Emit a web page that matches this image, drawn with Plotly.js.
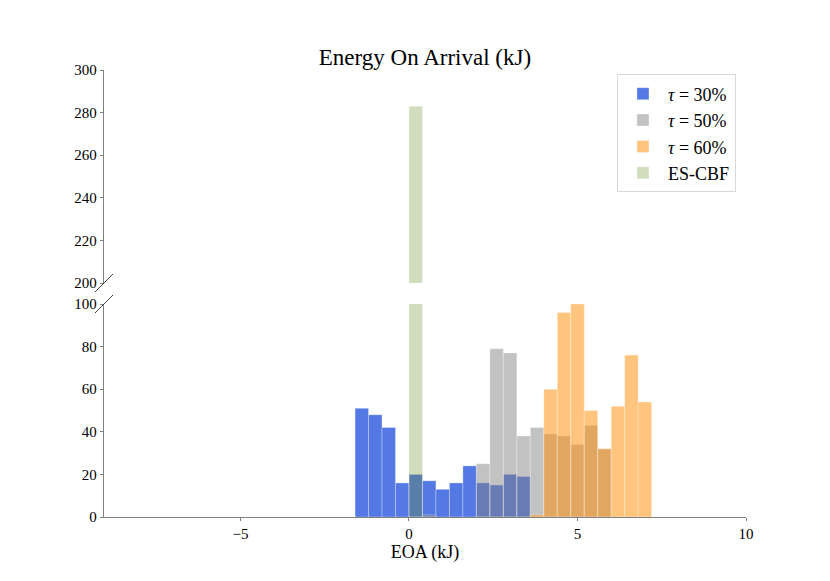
<!DOCTYPE html>
<html>
<head>
<meta charset="utf-8">
<script src="https://cdn.plot.ly/plotly-3.0.1.min.js"></script>
<style>
  html, body { margin: 0; padding: 0; background: #fff; }
  #grafico { width: 830px; height: 581px; }
</style>
</head>
<body>
<div id="grafico"></div>
<script>
// bin left edges (kJ) and counts, bin width 0.4
const binWidth = 0.4;

const tau30Edges = [-1.6, -1.2, -0.8, -0.4, 0.0, 0.4, 0.8, 1.2, 1.6, 2.0, 2.4, 2.8, 3.2];
const tau30Counts = [51, 48, 42, 16, 20, 17, 13, 16, 24, 16, 15, 20, 19];

const tau50Edges = [0.4, 2.0, 2.4, 2.8, 3.2, 3.6, 4.0, 4.4, 4.8, 5.2, 5.6];
const tau50Counts = [1, 25, 79, 77, 38, 42, 39, 38, 34, 43, 32];

const tau60Edges = [3.6, 4.0, 4.4, 4.8, 5.2, 5.6, 6.0, 6.4, 6.8];
const tau60Counts = [1, 60, 96, 100, 50, 32, 52, 76, 54];

const cbfEdges = [0.0];
const cbfCounts = [283];

const series = [
    { name: '<i>τ</i> = 30%', x: tau30Edges, y: tau30Counts, color: 'rgba(65,105,225,0.9)' },
    { name: '<i>τ</i> = 50%', x: tau50Edges, y: tau50Counts, color: 'rgba(128,128,128,0.48)' },
    { name: '<i>τ</i> = 60%', x: tau60Edges, y: tau60Counts, color: 'rgba(255,140,0,0.5)' },
    { name: 'ES-CBF', x: cbfEdges, y: cbfCounts, color: 'rgba(107,142,35,0.3)' }
];

const traces = [];
// lower panel (0-100)
series.forEach(s => {
    traces.push({
        type: 'bar', x: s.x, y: s.y, name: s.name,
        offset: 0, width: binWidth,
        marker: { color: s.color, line: { width: 0.6, color: 'rgba(255,255,255,0.5)' } },
        xaxis: 'x', yaxis: 'y', legendgroup: s.name
    });
});
// upper panel (200-300), same data
series.forEach(s => {
    traces.push({
        type: 'bar', x: s.x, y: s.y, name: s.name,
        offset: 0, width: binWidth, showlegend: false,
        marker: { color: s.color, line: { width: 0.6, color: 'rgba(255,255,255,0.5)' } },
        xaxis: 'x', yaxis: 'y2', legendgroup: s.name
    });
});

const fuente = 'Liberation Serif, Times New Roman, serif';
const gris = '#808080';
const splitBottom = 0.4765;
const splitTop = 0.5235;

// small diagonal marks at the axis break
function corte(yPaper) {
    return {
        type: 'line', xref: 'paper', yref: 'paper',
        xsizemode: 'pixel', xanchor: 0, x0: -9, x1: 9,
        ysizemode: 'pixel', yanchor: yPaper, y0: -9, y1: 9,
        line: { color: '#444', width: 1 }
    };
}

const layout = {
    width: 830, height: 581,
    margin: { l: 104, r: 84, t: 70, b: 64 },
    paper_bgcolor: '#fff', plot_bgcolor: '#fff',
    barmode: 'overlay', bargap: 0,
    font: { family: fuente, size: 15, color: '#000' },
    title: { text: 'Energy On Arrival (kJ)', x: 0.512, xanchor: 'center', y: 0.902, yanchor: 'middle',
             font: { family: fuente, size: 23, color: '#000' } },
    xaxis: {
        range: [-9.05, 10], tickvals: [-5, 0, 5, 10], ticks: 'outside', ticklen: 3,
        tickcolor: gris, showline: true, linecolor: gris, linewidth: 1.2,
        showgrid: false, zeroline: false, anchor: 'y',
        title: { text: 'EOA (kJ)', standoff: 0, font: { family: fuente, size: 18 } }
    },
    yaxis: {
        domain: [0, splitBottom], range: [0, 100], dtick: 20, ticks: 'outside', ticklen: 3,
        tickcolor: gris, showline: true, linecolor: gris, linewidth: 1.2,
        showgrid: false, zeroline: false, anchor: 'x'
    },
    yaxis2: {
        domain: [splitTop, 1], range: [200, 300], dtick: 20, ticks: 'outside', ticklen: 3,
        tickcolor: gris, showline: true, linecolor: gris, linewidth: 1.2,
        showgrid: false, zeroline: false, anchor: 'x'
    },
    legend: {
        x: 0.799, y: 0.99, xanchor: 'left', yanchor: 'top',
        bgcolor: '#fff', bordercolor: '#d9d9d9', borderwidth: 1,
        font: { family: fuente, size: 18 }, itemwidth: 40, tracegroupgap: 0
    },
    shapes: [corte(splitBottom), corte(splitTop)],
    showlegend: true
};

Plotly.newPlot('grafico', traces, layout, { displayModeBar: false, staticPlot: true });
</script>
</body>
</html>
